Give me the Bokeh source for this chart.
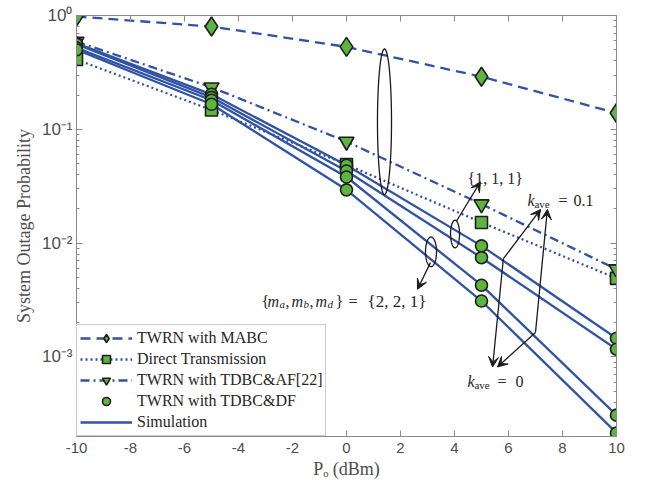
import numpy as np
from bokeh.plotting import figure
from bokeh.models import (FixedTicker, LinearAxis, LogAxis, Legend, LegendItem,
                          Label, Arrow, VeeHead, CustomJSTickFormatter)
from bokeh.embed import file_html
from bokeh.resources import INLINE

# ---------------- data ----------------
po_dbm = [-10, -5, 0, 5, 10]
mabc = [0.98, 0.80, 0.53, 0.29, 0.139]
direct = [0.41, 0.148, 0.049, 0.0152, 0.0049]
tdbc_af = [0.59, 0.234, 0.078, 0.022, 0.0059]
df_1 = [0.57, 0.203, 0.0484, 0.00946, 0.00146]
df_2 = [0.56, 0.191, 0.0430, 0.00745, 0.00117]
df_3 = [0.52, 0.180, 0.0381, 0.00427, 0.000308]
df_4 = [0.50, 0.166, 0.0294, 0.00310, 0.000215]

x_ticks = [-10, -8, -6, -4, -2, 0, 2, 4, 6, 8, 10]
y_major = [1e-3, 1e-2, 1e-1, 1.0]
y_minor = [m * 10.0 ** e for e in (-4, -3, -2, -1) for m in range(2, 10)]
legend_labels = ["TWRN with MABC", "Direct Transmission", "TWRN with TDBC&AF[22]",
                 "TWRN with TDBC&DF", "Simulation"]

BLUE = "#3153a6"
GREEN = "#5db53f"
EDGE = "#1e1e1e"
INK = "#1a1a1a"
GRAY = "#4d4d4d"
AXC = "#8a8a8a"
SERIF = "Liberation Serif"
SANS = "Liberation Sans"

p = figure(width=629, height=481, y_axis_type="log", x_range=(-10, 10), y_range=(2e-4, 1),
           output_backend="svg", toolbar_location=None,
           min_border_left=76, min_border_right=13, min_border_top=15, min_border_bottom=44)
p.grid.visible = False
p.outline_line_color = AXC

empty = CustomJSTickFormatter(code="return '';")
plain = CustomJSTickFormatter(code="return String(tick);")
pow_fmt = CustomJSTickFormatter(code="""
const e = Math.round(Math.log10(tick));
const sup = {"0":"\u2070","1":"\u00b9","2":"\u00b2","3":"\u00b3","4":"\u2074","-":"\u207b"};
return "10" + String(e).split("").map(c => sup[c]).join("");
""")

def style_axis(ax):
    ax.axis_line_color = AXC
    ax.major_tick_line_color = AXC
    ax.minor_tick_line_color = AXC
    ax.major_tick_in = 6
    ax.major_tick_out = 0
    ax.minor_tick_in = 3
    ax.minor_tick_out = 0
    ax.major_label_text_font = SANS
    ax.major_label_text_font_size = "15px"
    ax.major_label_text_color = GRAY

xa = p.xaxis[0]
xa.ticker = FixedTicker(ticks=x_ticks)
xa.formatter = plain
style_axis(xa)
xa.major_label_standoff = 6
xa.axis_label = "P\u2092 (dBm)"
xa.axis_label_text_font = SERIF
xa.axis_label_text_font_style = "normal"
xa.axis_label_text_font_size = "18px"
xa.axis_label_text_color = GRAY
xa.axis_label_standoff = 3

ya = p.yaxis[0]
ya.ticker = FixedTicker(ticks=y_major, minor_ticks=y_minor)
ya.formatter = pow_fmt
style_axis(ya)
ya.major_label_text_font_size = "17px"
ya.major_label_standoff = 4
ya.axis_label = "System Outage Probability"
ya.axis_label_text_font = SERIF
ya.axis_label_text_font_style = "normal"
ya.axis_label_text_font_size = "18px"
ya.axis_label_text_color = GRAY
ya.axis_label_standoff = 5

top = LinearAxis(ticker=FixedTicker(ticks=x_ticks), formatter=empty)
style_axis(top)
p.add_layout(top, "above")
right = LogAxis(ticker=FixedTicker(ticks=y_major, minor_ticks=y_minor), formatter=empty)
style_axis(right)
p.add_layout(right, "right")

# ---------------- series ----------------
LW = 2.3
r_mabc_l = p.line(po_dbm, mabc, line_color=BLUE, line_width=LW, line_dash="10 6")
r_dir_l = p.line(po_dbm, direct, line_color=BLUE, line_width=LW, line_dash="2 3")
r_af_l = p.line(po_dbm, tdbc_af, line_color=BLUE, line_width=LW, line_dash="9 4 2 4")
sim = []
for d in (df_1, df_2, df_3, df_4):
    sim.append(p.line(po_dbm, d, line_color=BLUE, line_width=LW))

mk = dict(fill_color=GREEN, line_color=EDGE, line_width=1.6)
r_mabc_m = p.scatter(po_dbm, mabc, marker="diamond", size=19, **mk)
r_dir_m = p.scatter(po_dbm, direct, marker="square", size=12, **mk)
r_af_m = p.scatter(po_dbm, tdbc_af, marker="inverted_triangle", size=15, **mk)
df_ms = []
for d in (df_1, df_2, df_3, df_4):
    df_ms.append(p.scatter(po_dbm, d, marker="circle", size=12, **mk))

legend = Legend(items=[
    LegendItem(label=legend_labels[0], renderers=[r_mabc_l, r_mabc_m]),
    LegendItem(label=legend_labels[1], renderers=[r_dir_l, r_dir_m]),
    LegendItem(label=legend_labels[2], renderers=[r_af_l, r_af_m]),
    LegendItem(label=legend_labels[3], renderers=[df_ms[0]]),
    LegendItem(label=legend_labels[4], renderers=[sim[0]]),
], location="bottom_left")
legend.margin = 0
legend.padding = 3
legend.spacing = 1
legend.glyph_width = 52
legend.glyph_height = 20
legend.label_height = 20
legend.label_standoff = 5
legend.label_text_font = SERIF
legend.label_text_font_size = "16px"
legend.label_text_color = "#262626"
legend.border_line_color = "#9a9a9a"
legend.border_line_width = 1
legend.background_fill_alpha = 1
p.add_layout(legend)

# ---------------- annotations ----------------
t = np.linspace(0, 2 * np.pi, 120)
def ellipse(cx, cly, a, b):
    p.line(cx + a * np.cos(t), 10 ** (cly + b * np.sin(t)), line_color=INK, line_width=1.3)

ellipse(1.407, -0.934, 0.26, 0.64)
ellipse(4.02, -1.92, 0.167, 0.121)
ellipse(3.13, -2.076, 0.204, 0.13)

def arrow(x0, ly0, x1, ly1):
    p.add_layout(Arrow(x_start=x0, y_start=10 ** ly0, x_end=x1, y_end=10 ** ly1,
                       line_color=INK, line_width=1.3,
                       end=VeeHead(size=10, fill_color=INK, line_color=INK, line_width=1)))

arrow(4.07, -1.808, 4.96, -1.462)   # {1,1,1}
arrow(3.11, -2.171, 2.63, -2.405)   # {2,2,1}
arrow(5.81, -2.137, 7.19, -1.704)
arrow(5.81, -2.137, 5.41, -3.088)
arrow(7.00, -2.785, 7.44, -1.704)
arrow(7.00, -2.785, 5.59, -3.088)

def pieces(x, y, items, color="#262626"):
    for text, dx, dy, size, st in items:
        p.add_layout(Label(x=x, y=y, x_offset=dx, y_offset=dy, text=text,
                           text_font=SERIF, text_font_size=f"{size}px", text_font_style=st,
                           text_baseline="alphabetic", text_align="left", text_color=color))

pieces(-3.148, 10 ** -2.509, [
    ("{", 0, 0, 16, "normal"), ("m", 6, 0, 16, "italic"), ("a", 18, -3, 11, "italic"),
    (",", 24, 0, 16, "normal"), ("m", 30, 0, 16, "italic"), ("b", 42, -3, 11, "italic"),
    (",", 48, 0, 16, "normal"), ("m", 54, 0, 16, "italic"), ("d", 66, -3, 11, "italic"),
    ("}", 74, 0, 16, "normal"), ("=", 87, 0, 16, "normal"), ("{2, 2, 1}", 106, 0, 17, "normal"),
])
pieces(4.48, 10 ** -1.436, [("{1, 1, 1}", 0, 0, 16, "normal")])
pieces(6.70, 10 ** -1.626, [
    ("k", 0, 0, 16, "italic"), ("ave", 7, -3, 11, "normal"),
    ("=", 31, 0, 16, "normal"), ("0.1", 46, 0, 16, "normal"),
])
pieces(4.48, 10 ** -3.218, [
    ("k", 0, 0, 16, "italic"), ("ave", 7, -3, 11, "normal"),
    ("=", 30, 0, 16, "normal"), ("0", 48, 0, 16, "normal"),
])

open("out.html", "w").write(file_html(p, INLINE))
